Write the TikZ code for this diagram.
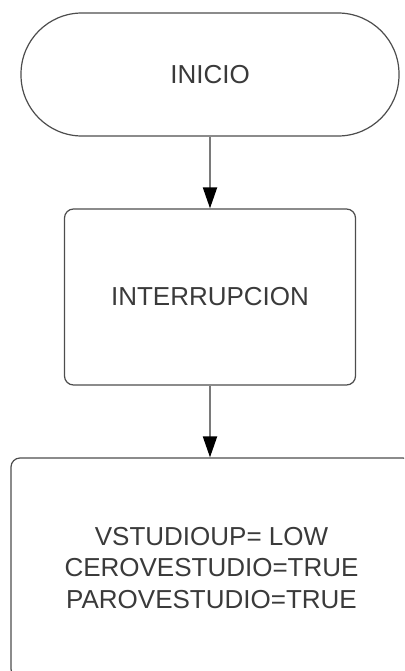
\documentclass[tikz,border=0pt]{standalone}
\usepackage{fontspec}
\setmainfont{Liberation Sans}
\usetikzlibrary{arrows.meta}

\definecolor{boxgray}{HTML}{4D4D4D}
\definecolor{linegray}{HTML}{7A7A7A}
\definecolor{textgray}{HTML}{3A3A3A}

\begin{document}
\begin{tikzpicture}[
    x=1pt, y=1pt,
    font=\fontsize{26}{31.5}\selectfont,
    terminal/.style={draw=boxgray, line width=1.2pt, rounded corners=61pt, minimum width=378pt, minimum height=123pt, text=textgray, inner sep=0pt},
    process/.style={draw=boxgray, line width=1.2pt, rounded corners=9pt, text=textgray, align=center},
    flow/.style={line width=2pt, linegray, -{Triangle[width=14pt, length=21pt, color=black]}}
  ]

  % Frame
  \useasboundingbox (0,0) rectangle (404,-671);
  \clip (0,0) rectangle (404,-671);

  % Blocks
  \node[terminal] (inicio) at (210,-74.5) {INICIO};
  \node[process, minimum width=291pt, minimum height=176pt] (interrupcion) at (210,-297) {INTERRUPCION};
  \node[process, minimum width=401pt, minimum height=220pt] (asignacion) at (211.5,-568) {VSTUDIOUP= LOW\\CEROVESTUDIO=TRUE\\PAROVESTUDIO=TRUE};

  % Flow
  \draw[flow] (inicio) -- (interrupcion);
  \draw[flow] (interrupcion.south) -- (interrupcion.south |- asignacion.north);

\end{tikzpicture}
\end{document}
